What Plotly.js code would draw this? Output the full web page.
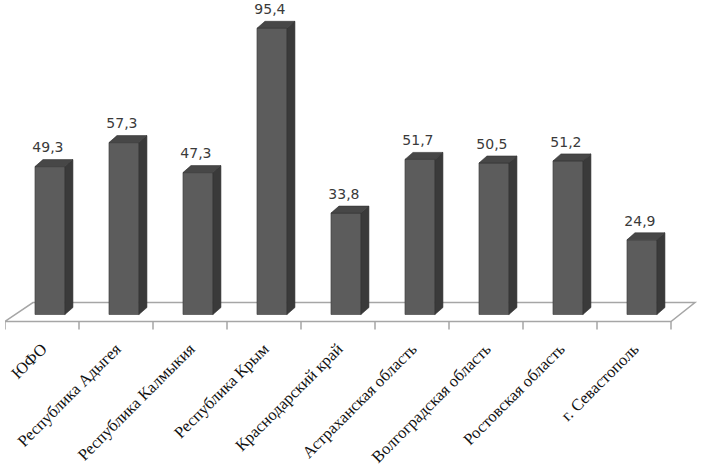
<!DOCTYPE html>
<html>
<head>
<meta charset="utf-8">
<script src="https://cdn.plot.ly/plotly-3.0.1.min.js"></script>
<style>html,body{margin:0;padding:0;background:#fff;}#chart{width:702px;height:469px;}</style>
</head>
<body>
<div id="chart"></div>
<script>
// ---- data ----
var categories = ["ЮФО", "Республика Адыгея", "Республика Калмыкия", "Республика Крым",
  "Краснодарский край", "Астраханская область", "Волгоградская область",
  "Ростовская область", "г. Севастополь"];
var values = [49.3, 57.3, 47.3, 95.4, 33.8, 51.7, 50.5, 51.2, 24.9];
var valueLabels = ["49,3", "57,3", "47,3", "95,4", "33,8", "51,7", "50,5", "51,2", "24,9"];

// ---- geometry (in axis units) ----
var idx = categories.map(function (_, i) { return i; });
var barOffset = -0.095, barWidth = 0.405;
var depthX = 0.108, depthY = 2.33;
var floorFront = -2.33, floorBack = 4.0, tickBottom = -5.0;

var sideX = [], sideY = [], topX = [], topY = [];
values.forEach(function (v, i) {
  var x0 = i + barOffset, x1 = x0 + barWidth;
  sideX.push(x1, x1 + depthX, x1 + depthX, x1, x1, null);
  sideY.push(0, depthY, v + depthY, v, 0, null);
  topX.push(x0, x0 + depthX, x1 + depthX, x1, x0, null);
  topY.push(v, v + depthY, v + depthY, v, v, null);
});

var traces = [
  { type: 'bar', x: idx, y: values, base: 0, width: barWidth, offset: barOffset,
    marker: { color: '#5c5c5c', line: { width: 0.6, color: '#3a3a3a' } },
    hoverinfo: 'skip', showlegend: false },
  { type: 'scatter', mode: 'lines', x: sideX, y: sideY, fill: 'toself',
    fillcolor: '#3a3a3a', line: { color: '#333333', width: 0.6 },
    hoverinfo: 'skip', showlegend: false },
  { type: 'scatter', mode: 'lines', x: topX, y: topY, fill: 'toself',
    fillcolor: '#474747', line: { color: '#333333', width: 0.6 },
    hoverinfo: 'skip', showlegend: false },
  { type: 'scatter', mode: 'text', x: idx.map(function (i) { return i + 0.08; }),
    y: values.map(function (v) { return v + 5.9; }), text: valueLabels,
    textposition: 'middle center', cliponaxis: false,
    textfont: { family: 'DejaVu Sans', size: 14, color: '#3a3a3a' },
    hoverinfo: 'skip', showlegend: false }
];

// floor (parallelogram) and boundary ticks
var shapes = [{
  type: 'path', xref: 'x', yref: 'y', layer: 'below',
  path: 'M -0.5 ' + floorFront + ' L 8.5 ' + floorFront + ' L 8.824 ' + floorBack +
        ' L -0.122 ' + floorBack + ' Z',
  line: { color: '#a6a6a6', width: 1.5 }, fillcolor: 'rgba(0,0,0,0)'
}];
for (var b = 0; b <= categories.length; b++) {
  shapes.push({ type: 'line', xref: 'x', yref: 'y', layer: 'below',
    x0: b - 0.5, x1: b - 0.5, y0: floorFront, y1: tickBottom,
    line: { color: '#a6a6a6', width: 1.5 } });
}

var layout = {
  width: 702, height: 469,
  margin: { l: 5, r: 0, t: 0, b: 134, pad: 0 },
  paper_bgcolor: '#ffffff', plot_bgcolor: '#ffffff',
  showlegend: false,
  xaxis: { range: [-0.5, 8.9189], tickmode: 'array', tickvals: idx, ticktext: categories,
    tickangle: -45, ticks: '', showgrid: false, zeroline: false, showline: false,
    tickfont: { family: 'Liberation Serif', size: 16.5, color: '#111111' }, fixedrange: true },
  yaxis: { range: [-6.83, 104.83], visible: false, showgrid: false, zeroline: false, fixedrange: true },
  shapes: shapes
};

Plotly.newPlot('chart', traces, layout, { staticPlot: true, displayModeBar: false });
</script>
</body>
</html>
